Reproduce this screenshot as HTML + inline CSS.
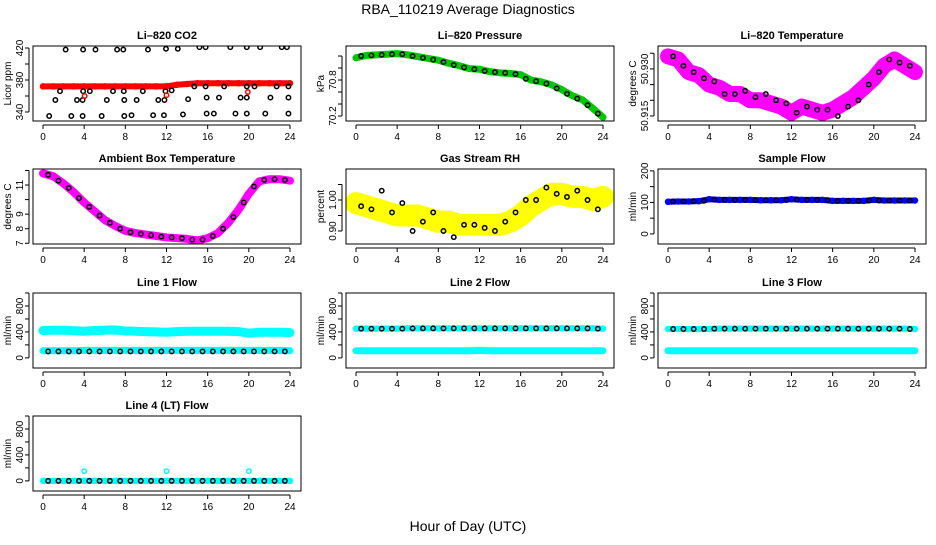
<!DOCTYPE html>
<html><head><meta charset="utf-8"><style>
body{margin:0;background:#fff;}
svg text{font-family:"Liberation Sans",sans-serif;}
</style></head><body>
<svg id="c" width="936" height="540" xmlns="http://www.w3.org/2000/svg">
<text x="468" y="14" text-anchor="middle" font-size="14">RBA_110219  Average Diagnostics</text>
<text x="468" y="531" text-anchor="middle" font-size="14">Hour of Day (UTC)</text>
</svg>
<script>
const hrsC=[0,1,2,3,4,5,6,7,8,9,10,11,12,13,14,15,16,17,18,19,20,21,22,23,24];
const hrsB=[0.5,1.5,2.5,3.5,4.5,5.5,6.5,7.5,8.5,9.5,10.5,11.5,12.5,13.5,14.5,15.5,16.5,17.5,18.5,19.5,20.5,21.5,22.5,23.5];
const xTicks=[0,4,8,12,16,20,24];
// CO2
const co2Red=[372,372,372,372,372,372,372,372,372,372,372,372,372,374,375,376,376,376,376,376,376,376,376,376,376];
const co2BlackH=[0.6,2.2,1.65,1.2,2.75,3.3,3.85,3.85,3.9,3.9,4.55,5.1,5.7,6.2,6.8,7.2,7.8,7.85,7.9,7.9,8.6,9.1,9.7,10.2,10.7,11.2,11.75,11.8,11.9,11.95,12.5,13.1,13.6,14.1,14.7,15.2,15.8,15.8,15.9,15.9,16.6,17.1,17.6,18.2,18.7,19.2,19.8,19.8,19.8,19.8,20.55,21.1,21.6,22.1,22.7,23.2,23.7,23.85,23.85,23.85];
const co2BlackV=[335,418,366,355,335,355,355,335,418,366,366,418,335,355,366,418,418,366,355,335,336,355,366,418,336,355,336,355,366,419,367,419,337,356,372,421,421,372,358,338,338,358,372,421,338,358,338,421,372,358,372,421,338,358,372,421,421,372,358,338];
const co2OutH=[4.05,12,19.9];
const co2OutV=[360,361,365];
// Pressure
const presC=[71.17,71.21,71.22,71.23,71.24,71.22,71.19,71.16,71.13,71.08,71.04,70.99,70.98,70.94,70.92,70.91,70.89,70.80,70.77,70.72,70.64,70.54,70.47,70.33,70.18];
const presB=[71.20,71.21,71.22,71.23,71.23,71.20,71.17,71.14,71.10,71.05,71.01,70.98,70.95,70.93,70.92,70.90,70.82,70.78,70.74,70.66,70.57,70.49,70.38,70.24];
// Li-820 temperature
const ltC=[50.934,50.933,50.929,50.928,50.925,50.924,50.922,50.922,50.920,50.920,50.919,50.918,50.916,50.918,50.917,50.916,50.917,50.919,50.921,50.924,50.927,50.931,50.933,50.931,50.929];
const ltB=[50.934,50.931,50.929,50.927,50.926,50.922,50.922,50.923,50.921,50.922,50.920,50.919,50.916,50.918,50.917,50.917,50.915,50.918,50.920,50.925,50.929,50.933,50.932,50.931];
// Ambient
const ambC=[11.8,11.6,11.1,10.5,9.8,9.2,8.6,8.2,7.85,7.7,7.6,7.5,7.4,7.35,7.3,7.2,7.35,7.7,8.4,9.3,10.4,11.25,11.4,11.4,11.3];
const ambB=[11.7,11.3,10.8,10.1,9.5,8.9,8.4,8.0,7.75,7.65,7.55,7.45,7.4,7.35,7.25,7.25,7.5,8.0,8.8,9.8,10.9,11.35,11.4,11.35];
// RH
const rhC=[0.99,0.98,0.97,0.96,0.95,0.95,0.95,0.94,0.93,0.93,0.92,0.92,0.92,0.92,0.92,0.93,0.95,0.98,1.00,1.02,1.02,1.01,1.01,1.00,1.01];
const rhB=[0.98,0.97,1.03,0.96,0.99,0.90,0.93,0.96,0.90,0.88,0.92,0.92,0.91,0.90,0.93,0.96,1.00,1.00,1.04,1.02,1.01,1.03,1.00,0.97];
// Sample flow
const sfC=[102,103,103,104,110,108,108,108,108,107,107,107,110,108,108,108,105,105,105,105,108,106,106,106,106];
const sfB=[103,103,104,105,109,108,108,108,107,107,107,108,109,108,108,107,105,105,105,106,106,106,106,106];
// Line flows
const l1Hi=[420,425,425,420,410,420,425,430,415,410,405,400,395,405,410,410,410,410,410,405,380,395,395,395,390];
const l1Lo=[110,110,110,110,115,115,115,115,115,115,115,115,115,115,115,115,115,115,115,115,115,115,115,115,110];
const l1B=[100,100,100,100,100,100,100,100,100,100,100,100,100,100,100,100,100,100,100,100,100,100,100,100];
const l2Hi=[450,450,450,450,450,455,455,455,455,455,455,455,455,455,455,455,455,455,455,455,455,455,455,455,450];
const l2Lo=[110,110,110,110,110,110,110,110,110,110,110,110,115,110,110,110,110,110,110,110,110,110,110,110,110];
const l2B=[450,450,450,450,450,455,455,455,455,455,455,455,455,455,455,455,455,455,455,455,455,455,455,450];
const l3Hi=[445,445,445,445,445,450,450,450,450,450,450,450,450,450,450,450,450,450,450,450,450,450,450,450,445];
const l3Lo=[110,110,110,110,110,110,110,110,110,110,110,110,110,110,110,110,110,110,110,110,110,110,110,110,110];
const l3B=[445,445,445,445,450,450,450,450,450,450,450,450,450,450,450,450,450,450,450,450,450,450,450,445];
const l4C=[0,0,0,0,0,0,0,0,0,0,0,0,0,0,0,0,0,0,0,0,0,0,0,0,0];
const l4B=[0,0,0,0,0,0,0,0,0,0,0,0,0,0,0,0,0,0,0,0,0,0,0,0];
const l4SpikeH=[4,12,20];
const l4SpikeV=[150,150,150];

const NS="http://www.w3.org/2000/svg";
const svg=document.getElementById('c');
function mk(tag,attrs,parent){const e=document.createElementNS(NS,tag);for(const k in attrs)e.setAttribute(k,attrs[k]);(parent||svg).appendChild(e);return e;}

function panel(o){
  const g=mk('g',{});
  
  
  const L=o.x,T=o.y,W=268,H=75;
  const xs=h=>L+10+h*(247/24);
  const ys=v=>T+H-(v-o.min)/(o.max-o.min)*H;
  const t=mk('text',{x:L+W/2,y:T-7,'text-anchor':'middle','font-size':'11','font-weight':'bold'},g);
  t.textContent=o.title;
  
  
  const at=mk('text',{x:0,y:0,'text-anchor':'middle','font-size':'10',transform:`translate(${L-22},${T+H/2}) rotate(-90)`},g);
  at.textContent=o.ylab;
  
  
  const xa=mk('line',{x1:xs(0),x2:xs(24),y1:T+H+4,y2:T+H+4,stroke:'#000','stroke-width':1},g);
  
  
  xTicks.forEach(h=>{
    mk('line',{x1:xs(h),x2:xs(h),y1:T+H+4,y2:T+H+8,stroke:'#000'},g);
    const tl=mk('text',{x:xs(h),y:T+H+19,'text-anchor':'middle','font-size':'10'},g);
    tl.textContent=h;
    
    
  });
  const yt=o.ticks.filter(v=>v>=o.min-1e-9&&v<=o.max+1e-9);
  mk('line',{x1:L-4,x2:L-4,y1:ys(yt[0]),y2:ys(yt[yt.length-1]),stroke:'#000'},g);
  yt.forEach(v=>{
    mk('line',{x1:L-8,x2:L-4,y1:ys(v),y2:ys(v),stroke:'#000'},g);
  });
  o.labels.forEach(v=>{
    const yl=mk('text',{x:0,y:0,'text-anchor':'middle','font-size':'10',transform:`translate(${L-10},${ys(v)}) rotate(-90)`},g);
    yl.textContent=o.fmt?o.fmt(v):v;
    
    
  });
  const cg=mk('g',{},g);
  const cp='cp'+o.name;
  const cl=mk('clipPath',{id:cp},g);mk('rect',{x:L,y:T,width:W,height:H},cl);
  cg.setAttribute('clip-path',`url(#${cp})`);
  (o.bands||[]).forEach(b=>{
    const p=mk('polyline',{points:b.v.map((v,i)=>xs(hrsC[i])+','+ys(v)).join(' '),fill:'none',stroke:b.c,'stroke-width':b.w,'stroke-linejoin':'round','stroke-linecap':'round'},cg);
    
    
    b.v.forEach((v,i)=>{
      const c=mk('circle',{cx:xs(hrsC[i]),cy:ys(v),r:2.5,fill:'none',stroke:b.c,'stroke-width':1.5},cg);
      
      
    });
  });
  (o.pts||[]).forEach(s=>{
    s.v.forEach((v,i)=>{
      const c=mk('circle',{cx:xs(s.h[i]),cy:ys(v),r:2.2,fill:'none',stroke:s.c,'stroke-width':1.5},cg);
      
      
    });
  });
  const box=mk('rect',{x:L,y:T,width:W,height:H,fill:'none',stroke:'#000','stroke-width':1},g);
  
  
}
const C=[33,346,658], R=[46,169,293,416];
const flowTicks=[0,200,400,600,800,1000], flowLab=[0,400,800];
panel({name:'co2-panel',title:'Li\u2013820 CO2',ylab:'Licor ppm',x:C[0],y:R[0],min:328.75,max:422.5,ticks:[340,360,380,400,420],labels:[340,380,420],
  bands:[{v:co2Red,c:'#f00',w:6}],pts:[{h:co2BlackH,v:co2BlackV,c:'#000'},{h:co2OutH,v:co2OutV,c:'#f00'}]});
panel({name:'pressure-panel',title:'Li\u2013820 Pressure',ylab:'kPa',x:C[1],y:R[0],min:70.117,max:71.367,ticks:[70.2,70.4,70.6,70.8,71.0,71.2],labels:[70.2,70.8],fmt:v=>v.toFixed(1),
  bands:[{v:presC,c:'#00c800',w:7}],pts:[{h:hrsB,v:presB,c:'#000'}]});
panel({name:'li820-temp-panel',title:'Li\u2013820 Temperature',ylab:'degrees C',x:C[2],y:R[0],min:50.9134,max:50.9373,ticks:[50.915,50.920,50.925,50.930,50.935],labels:[50.915,50.930],fmt:v=>v.toFixed(3),
  bands:[{v:ltC,c:'#f0f',w:16}],pts:[{h:hrsB,v:ltB,c:'#000'}]});
panel({name:'ambient-temp-panel',title:'Ambient Box Temperature',ylab:'degrees C',x:C[0],y:R[1],min:6.95,max:12.1,ticks:[7,8,9,10,11,12],labels:[7,8,9,11],
  bands:[{v:ambC,c:'#f0f',w:8}],pts:[{h:hrsB,v:ambB,c:'#000'}]});
panel({name:'rh-panel',title:'Gas Stream RH',ylab:'percent',x:C[1],y:R[1],min:0.858,max:1.100,ticks:[0.90,0.95,1.00,1.05],labels:[0.90,1.00],fmt:v=>v.toFixed(2),
  bands:[{v:rhC,c:'#ff0',w:22}],pts:[{h:hrsB,v:rhB,c:'#000'}]});
panel({name:'sample-flow-panel',title:'Sample Flow',ylab:'ml/min',x:C[2],y:R[1],min:-32,max:206,ticks:[0,50,100,150,200],labels:[0,100,200],
  bands:[{v:sfC,c:'#00f',w:6}],pts:[{h:hrsB,v:sfB,c:'#000'}]});
panel({name:'line1-flow-panel',title:'Line 1 Flow',ylab:'ml/min',x:C[0],y:R[2],min:-156,max:1000,ticks:flowTicks,labels:flowLab,
  bands:[{v:l1Hi,c:'#0ff',w:9},{v:l1Lo,c:'#0ff',w:7}],pts:[{h:hrsB,v:l1B,c:'#000'}]});
panel({name:'line2-flow-panel',title:'Line 2 Flow',ylab:'ml/min',x:C[1],y:R[2],min:-156,max:1000,ticks:flowTicks,labels:flowLab,
  bands:[{v:l2Hi,c:'#0ff',w:6},{v:l2Lo,c:'#0ff',w:7}],pts:[{h:hrsB,v:l2B,c:'#000'}]});
panel({name:'line3-flow-panel',title:'Line 3 Flow',ylab:'ml/min',x:C[2],y:R[2],min:-156,max:1000,ticks:flowTicks,labels:flowLab,
  bands:[{v:l3Hi,c:'#0ff',w:6},{v:l3Lo,c:'#0ff',w:7}],pts:[{h:hrsB,v:l3B,c:'#000'}]});
panel({name:'line4-flow-panel',title:'Line 4 (LT) Flow',ylab:'ml/min',x:C[0],y:R[3],min:-156,max:1000,ticks:flowTicks,labels:flowLab,
  bands:[{v:l4C,c:'#0ff',w:6}],pts:[{h:hrsB,v:l4B,c:'#000'},{h:l4SpikeH,v:l4SpikeV,c:'#0ff'}]});
</script>
</body></html>
